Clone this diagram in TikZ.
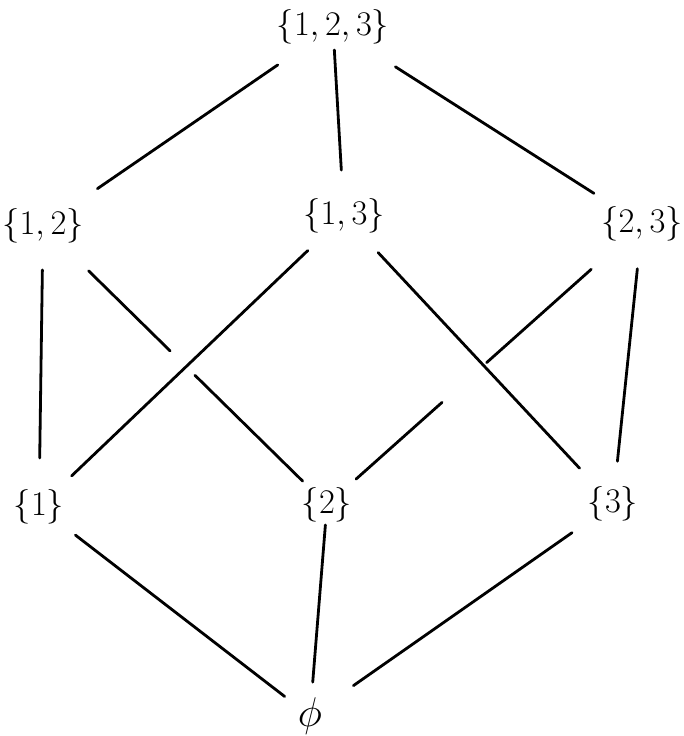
\documentclass[tikz,border=0pt]{standalone}
\usepackage{tikz}

\begin{document}
\begin{tikzpicture}[x=.5pt, y=-.5pt, every node/.style={font=\fontsize{16}{19}\selectfont, inner sep=0pt}, line cap=round, line join=round,
  edgegap/.style 2 args={shorten <=#1, shorten >=#2}]
  \useasboundingbox (0,0) rectangle (684,736);

  \node (n123) at (333,27)  {$\{1,2,3\}$};
  \node (n12)  at (43,226)  {$\{1,2\}$};
  \node (n13)  at (344,216) {$\{1,3\}$};
  \node (n23)  at (642,224) {$\{2,3\}$};
  \node (n1)   at (39,507)  {$\{1\}$};
  \node (n2)   at (327,505) {$\{2\}$};
  \node (n3)   at (613,504) {$\{3\}$};
  \node[scale=1.2] (n0) at (310,716) {$\phi$};

  % top to pairs
  \draw[line width=1.4pt, edgegap={33.5pt}{33pt}]   (n123.center)--(n12.center);
  \draw[line width=1.4pt, edgegap={11.5pt}{23pt}]   (n123.center)--(n13.center);
  \draw[line width=1.4pt, edgegap={37pt}{28.5pt}]   (n123.center)--(n23.center);

  % pairs to singletons
  \draw[line width=1.4pt, edgegap={22pt}{24.5pt}]   (n12.center)--(n1.center);
  \draw[line width=1.4pt, edgegap={32pt}{110pt}]    (n12.center)--(n2.center);
  \draw[line width=1.4pt, edgegap={106.5pt}{17pt}]  (n12.center)--(n2.center);
  \draw[line width=1.4pt, edgegap={25pt}{22.5pt}]   (n13.center)--(n1.center);
  \draw[line width=1.4pt, edgegap={25pt}{24.5pt}]   (n13.center)--(n3.center);
  \draw[line width=1.4pt, edgegap={34pt}{107pt}]    (n23.center)--(n2.center);
  \draw[line width=1.4pt, edgegap={134pt}{19.5pt}]  (n23.center)--(n2.center);
  \draw[line width=1.4pt, edgegap={22.5pt}{21.5pt}] (n23.center)--(n3.center);

  % singletons to empty set
  \draw[line width=1.4pt, edgegap={23pt}{16pt}]     (n1.center)--(n0.center);
  \draw[line width=1.4pt, edgegap={10pt}{17pt}]     (n2.center)--(n0.center);
  \draw[line width=1.4pt, edgegap={25pt}{26.5pt}]   (n3.center)--(n0.center);
\end{tikzpicture}
\end{document}
